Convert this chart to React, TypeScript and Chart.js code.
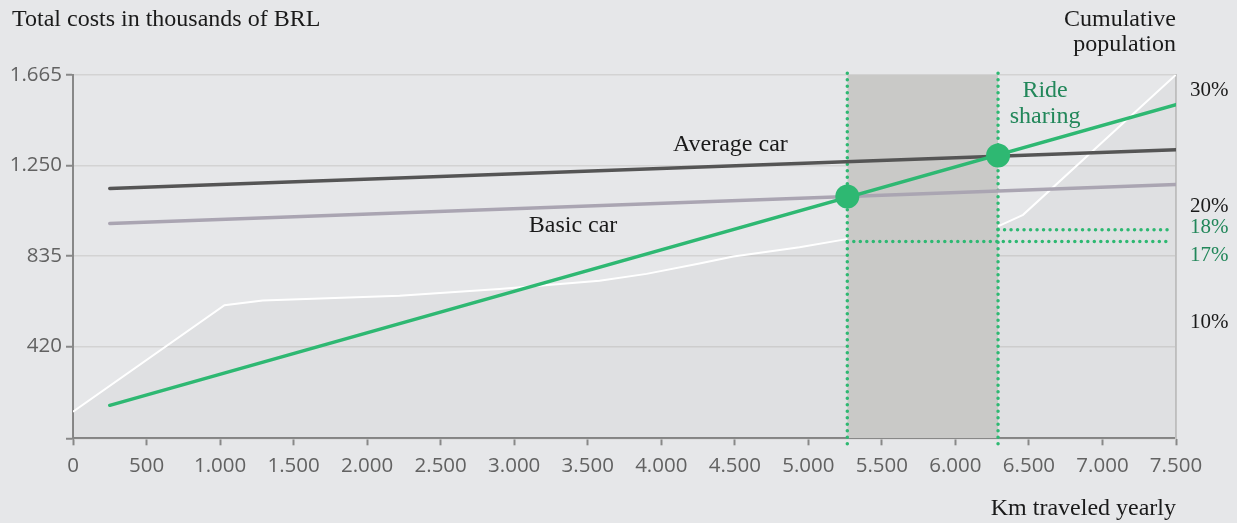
import React, { useEffect, useRef } from 'react';
import { Chart, registerables } from 'chart.js';

Chart.register(...registerables);

// ---- data ----
const kmMin = 0;
const kmMax = 7500;
const kmStep = 500;
const costTicks = [0, 420, 835, 1250, 1665];
const popTicks = [10, 20, 30];
const popMax = 31.4;

const carKm = [250, 7500];
const averageCar = [1144, 1321];
const basicCar = [984, 1162];
const rideSharing = [151, 1528];

const breakEvenKm = [5265, 6290];
const breakEvenCost = [1107, 1295];
const breakEvenPop = [17, 18];
const breakEvenPopLabels = ['17%', '18%'];
const dottedEndKm = 7460;

const cumKm = [0, 1030, 1290, 2220, 2900, 3580, 3900, 4260, 4490, 4940, 5260, 6290, 6460, 7500];
const cumPop = [2.3, 11.5, 11.9, 12.3, 12.9, 13.6, 14.2, 15.1, 15.7, 16.5, 17.2, 18.3, 19.3, 31.4];

const SERIF = '"Liberation Serif", serif';
const SANS = '"Open Sans", sans-serif';
const BG = '#e6e7e9';
const GREEN = '#2eb872';
const GREEN_TEXT = '#22875a';
const DARK = '#1a1a1a';

const fmt = (v: number) => String(v).replace(/\B(?=(\d{3})+(?!\d))/g, '.');

const pts = (xs: number[], ys: number[]) => xs.map((x, i) => ({ x, y: ys[i] }));

export default function App() {
  const ref = useRef<HTMLCanvasElement | null>(null);

  useEffect(() => {
    document.body.style.margin = '0';
    document.body.style.background = BG;
    const canvas = ref.current;
    if (!canvas) return;

    const bgPlugin = {
      id: 'bg',
      beforeDraw(chart: any) {
        const { ctx, width, height } = chart;
        ctx.save();
        ctx.fillStyle = BG;
        ctx.fillRect(0, 0, width, height);
        ctx.restore();
      },
    };

    const textPlugin = {
      id: 'texts',
      afterDraw(chart: any) {
        const { ctx, scales } = chart;
        const x = scales.x;
        const y = scales.y;
        const y2 = scales.y2;
        ctx.save();
        ctx.textBaseline = 'alphabetic';
        ctx.font = `24px ${SERIF}`;
        ctx.fillStyle = DARK;
        ctx.textAlign = 'left';
        ctx.fillText('Total costs in thousands of BRL', 12, 26);
        ctx.textAlign = 'right';
        ctx.fillText('Cumulative', x.right, 26);
        ctx.fillText('population', x.right, 51);
        ctx.fillText('Km traveled yearly', x.right, 515);
        ctx.textAlign = 'center';
        ctx.fillText('Average car', x.getPixelForValue(4470), y.getPixelForValue(1315));
        ctx.fillText('Basic car', x.getPixelForValue(3400), y.getPixelForValue(945));
        ctx.fillStyle = GREEN_TEXT;
        ctx.fillText('Ride', x.getPixelForValue(6610), y.getPixelForValue(1563));
        ctx.fillText('sharing', x.getPixelForValue(6610), y.getPixelForValue(1444));
        ctx.font = `21px ${SERIF}`;
        ctx.textAlign = 'left';
        ctx.fillText(breakEvenPopLabels[1], x.right + 14, y2.getPixelForValue(breakEvenPop[1]) + 3);
        ctx.fillText(breakEvenPopLabels[0], x.right + 14, y2.getPixelForValue(breakEvenPop[0]) + 20);
        ctx.restore();
      },
    };

    const dotted = (data: any[], axis: string) => ({
      data,
      yAxisID: axis,
      borderColor: GREEN,
      borderWidth: 3.5,
      borderDash: [0, 6.5],
      borderCapStyle: 'round',
      pointRadius: 0,
      fill: false,
      clip: false,
    });

    const chart = new Chart(canvas, {
      type: 'line',
      data: {
        datasets: [
          {
            data: pts(breakEvenKm, breakEvenCost),
            yAxisID: 'y',
            showLine: false,
            pointRadius: 12,
            pointBackgroundColor: GREEN,
            pointBorderWidth: 0,
          } as any,
          {
            data: pts(carKm, rideSharing),
            yAxisID: 'y',
            borderColor: GREEN,
            borderWidth: 3.5,
            pointRadius: 0,
            borderCapStyle: 'round',
          },
          {
            data: pts(carKm, averageCar),
            yAxisID: 'y',
            borderColor: '#555555',
            borderWidth: 3.5,
            pointRadius: 0,
            borderCapStyle: 'round',
          },
          {
            data: pts(carKm, basicCar),
            yAxisID: 'y',
            borderColor: '#aaa5b2',
            borderWidth: 3.5,
            pointRadius: 0,
            borderCapStyle: 'round',
          },
          dotted([{ x: breakEvenKm[0], y: 1672 }, { x: breakEvenKm[0], y: -46 }], 'y'),
          dotted([{ x: breakEvenKm[1], y: 1672 }, { x: breakEvenKm[1], y: -46 }], 'y'),
          dotted([{ x: breakEvenKm[0], y: breakEvenPop[0] }, { x: dottedEndKm, y: breakEvenPop[0] }], 'y2'),
          dotted([{ x: breakEvenKm[1], y: breakEvenPop[1] }, { x: dottedEndKm, y: breakEvenPop[1] }], 'y2'),
          {
            data: [{ x: breakEvenKm[0], y: 1672 }, { x: breakEvenKm[1], y: 1672 }],
            yAxisID: 'y',
            borderWidth: 0,
            pointRadius: 0,
            fill: 'origin',
            backgroundColor: '#c9c9c7',
            clip: false,
          } as any,
          {
            data: pts(cumKm, cumPop),
            yAxisID: 'y2',
            borderColor: '#ffffff',
            borderWidth: 2,
            pointRadius: 0,
            fill: 'origin',
            backgroundColor: 'rgba(0,0,0,0.028)',
          },
        ],
      },
      options: {
        animation: false,
        responsive: false,
        devicePixelRatio: 1,
        events: [],
        layout: { padding: { top: 74.7, left: 0, right: 0, bottom: 0 } },
        plugins: { legend: { display: false }, tooltip: { enabled: false } },
        scales: {
          x: {
            type: 'linear',
            min: kmMin,
            max: kmMax,
            ticks: {
              stepSize: kmStep,
              callback: (v: any) => fmt(Number(v)),
              font: { family: SANS, size: 20.5 },
              color: '#626262',
              padding: 9,
              maxRotation: 0,
              autoSkip: false,
            },
            grid: { drawOnChartArea: false, drawTicks: true, tickLength: 7, tickColor: '#888888', tickWidth: 2 },
            border: { display: true, color: '#888888', width: 2 },
            afterFit: (s: any) => { s.height = 84.7; },
          },
          y: {
            type: 'linear',
            position: 'left',
            min: costTicks[0],
            max: costTicks[costTicks.length - 1],
            afterBuildTicks: (s: any) => { s.ticks = costTicks.map((v) => ({ value: v })); },
            ticks: {
              callback: (v: any) => (Number(v) === 0 ? '' : fmt(Number(v))),
              font: { family: SANS, size: 20.5 },
              color: '#626262',
              padding: 4,
            },
            grid: { color: '#d3d3d3', lineWidth: 1.5, drawTicks: true, tickLength: 7, tickColor: '#888888', tickWidth: 2 },
            border: { display: true, color: '#888888', width: 2 },
            afterFit: (s: any) => { s.width = 73; },
          },
          y2: {
            type: 'linear',
            position: 'right',
            min: 0,
            max: popMax,
            afterBuildTicks: (s: any) => { s.ticks = popTicks.map((v) => ({ value: v })); },
            ticks: {
              callback: (v: any) => `${v}%`,
              font: { family: SERIF, size: 21 },
              color: DARK,
              padding: 14,
            },
            grid: { display: false, drawOnChartArea: false, drawTicks: false },
            border: { display: true, color: '#c4c4c4', width: 2 },
            afterFit: (s: any) => { s.width = 61; },
          },
        },
      } as any,
      plugins: [bgPlugin, textPlugin],
    });

    return () => chart.destroy();
  }, []);

  return (
    <div style={{ position: 'fixed', left: 0, top: 0, width: 1237, height: 523, background: BG }}>
      <canvas ref={ref} width={1237} height={523} style={{ display: 'block', width: 1237, height: 523 }} />
    </div>
  );
}
